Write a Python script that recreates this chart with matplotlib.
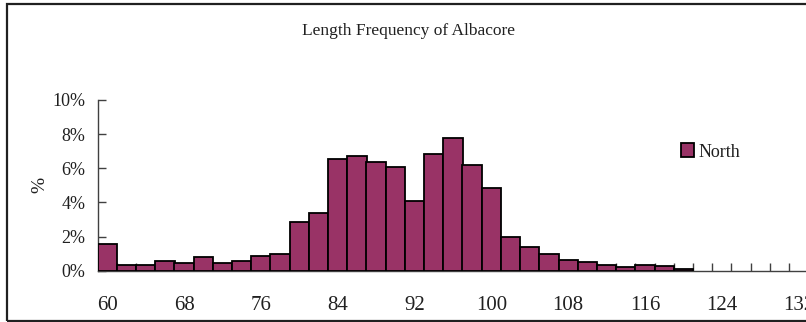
import matplotlib
matplotlib.use("Agg")
import matplotlib.pyplot as plt
from matplotlib.patches import Rectangle
from matplotlib.ticker import FixedLocator, FuncFormatter

# Fork length classes (cm, 2 cm bins) and percentage of fish in each class
lengths = [60, 62, 64, 66, 68, 70, 72, 74, 76, 78,
           80, 82, 84, 86, 88, 90, 92, 94, 96, 98,
           100, 102, 104, 106, 108, 110, 112, 114, 116, 118, 120]
north_pct = [1.55, 0.35, 0.35, 0.54, 0.45, 0.78, 0.45, 0.54, 0.88, 0.99,
             2.83, 3.36, 6.57, 6.71, 6.36, 6.05, 4.09, 6.82, 7.8, 6.18,
             4.85, 2.0, 1.4, 0.96, 0.64, 0.53, 0.31, 0.2, 0.31, 0.25, 0.1]
x_tick_labels = [60, 68, 76, 84, 92, 100, 108, 116, 124, 132]
y_ticks = [0, 2, 4, 6, 8, 10]

BIN = 2
X_MIN, X_MAX = 59, 141
BAR_COLOR = "#993366"
SERIF = ["Liberation Serif", "DejaVu Serif"]

W, H = 806, 322
fig = plt.figure(figsize=(W / 100, H / 100), dpi=100)
fig.patch.set_facecolor("white")

# outer chart frame (continues past the right edge)
fig.patches.append(Rectangle((7.5 / W, 1.0 / H), 1.2, (H - 5.0) / H,
                             transform=fig.transFigure, fill=False,
                             edgecolor="#202020", linewidth=1.6))

left_px, base_px, top_px = 97.7, 270.7, 100.0
px_per_unit = 19.2 / BIN
ax = fig.add_axes([left_px / W, (H - base_px) / H,
                   (X_MAX - X_MIN) * px_per_unit / W, (base_px - top_px) / H])
ax.set_facecolor("none")

ax.bar(lengths, north_pct, width=BIN, color=BAR_COLOR, edgecolor="black",
       linewidth=1.3, align="center", label="North", zorder=3)

ax.set_xlim(X_MIN, X_MAX)
ax.set_ylim(0, 10)

for side in ("top", "right"):
    ax.spines[side].set_visible(False)
ax.spines["left"].set_color("#404040")
ax.spines["left"].set_linewidth(1.0)
ax.spines["bottom"].set_color("#404040")
ax.spines["bottom"].set_linewidth(1.0)

# y axis: percentages with inward ticks
ax.yaxis.set_major_locator(FixedLocator(y_ticks))
ax.yaxis.set_major_formatter(FuncFormatter(lambda v, _: f"{v:.0f}%"))
ax.tick_params(axis="y", direction="in", length=6, width=1.0, color="#404040",
               pad=9, labelsize=13)

# x axis: labels at class centres, tick marks at class boundaries
ax.xaxis.set_major_locator(FixedLocator(x_tick_labels))
ax.xaxis.set_major_formatter(FuncFormatter(lambda v, _: f"{v:.0f}"))
ax.xaxis.set_minor_locator(FixedLocator([X_MIN + BIN * k for k in range(1, 41)]))
ax.tick_params(axis="x", which="major", length=0, pad=18, labelsize=15)
ax.tick_params(axis="x", which="minor", direction="in", length=6, width=1.0,
               color="#404040")

for lab in ax.get_xticklabels() + ax.get_yticklabels():
    lab.set_family(SERIF)
    lab.set_color("#202020")

fig.text(409 / W, 1 - 31 / H, "Length Frequency of Albacore", ha="center",
         va="center", fontsize=12.5, family=SERIF, color="#202020")
fig.text(40 / W, 1 - 185 / H, "%", ha="center", va="center", rotation=90,
         fontsize=14, family=SERIF, color="#202020")

leg = fig.legend(loc="center left", bbox_to_anchor=(681 / W, 1 - 152 / H),
                 frameon=False, borderpad=0, borderaxespad=0,
                 handlelength=0.7, handleheight=0.8, handletextpad=0.25,
                 prop={"family": SERIF, "size": 13})
for t in leg.get_texts():
    t.set_color("#202020")

fig.savefig("out.png", dpi=100)
